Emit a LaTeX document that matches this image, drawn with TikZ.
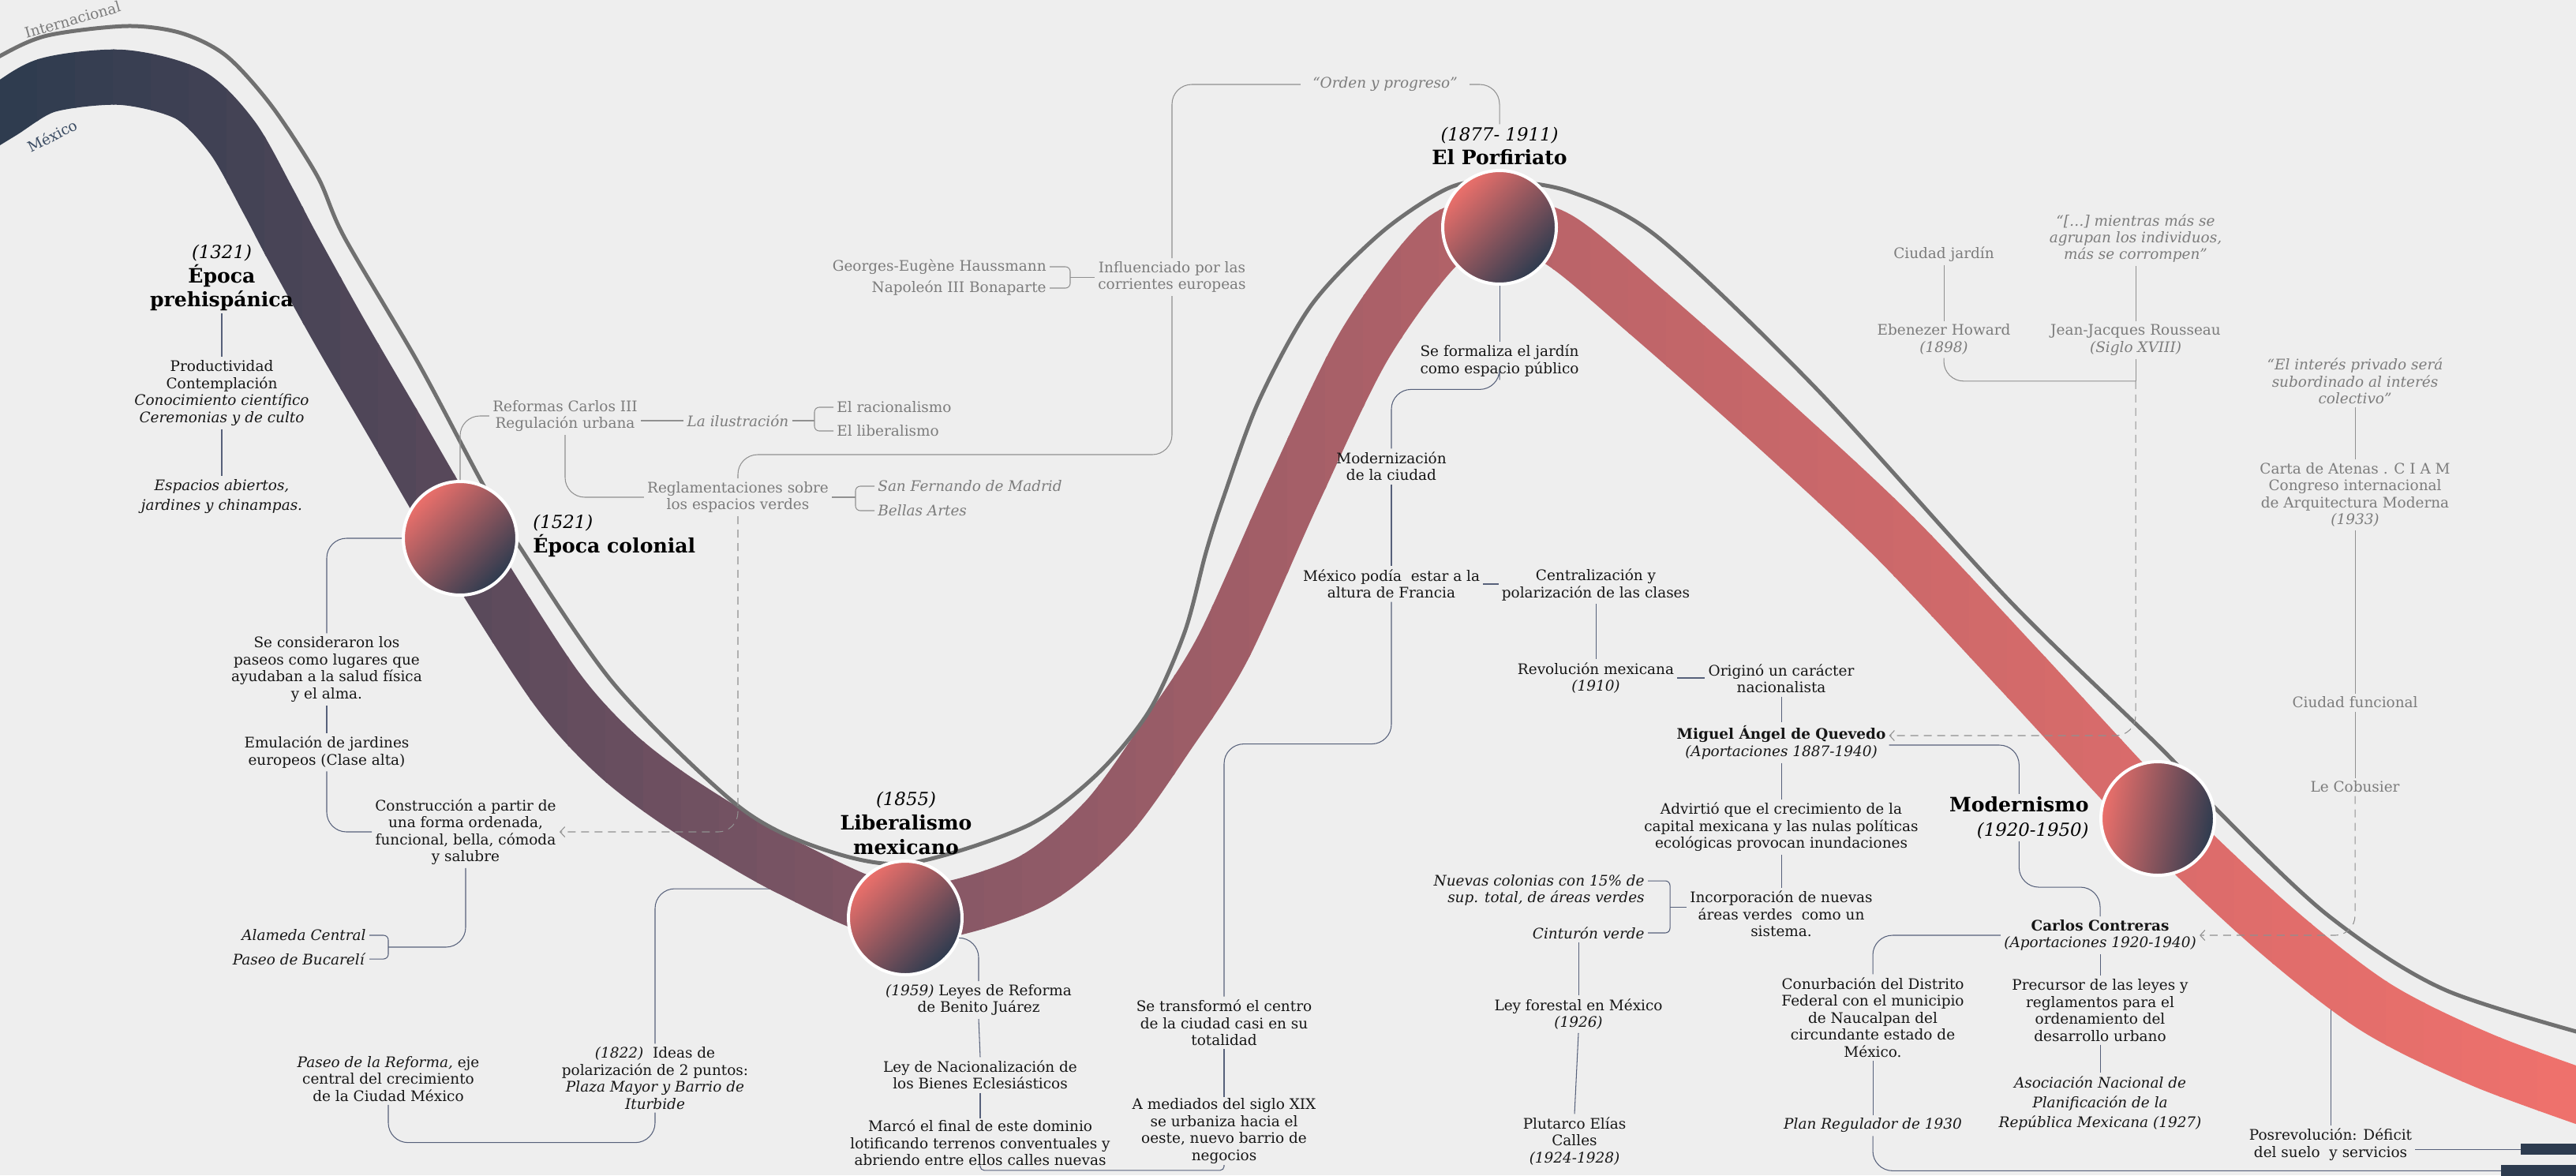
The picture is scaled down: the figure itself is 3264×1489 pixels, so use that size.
\documentclass[tikz,border=0pt]{standalone}
\usepackage{fontspec}
\setmainfont{DejaVu Serif}
\usepackage{tikz}
\usetikzlibrary{arrows.meta, calc, positioning}
\usepackage{xcolor}
\definecolor{PaperGray}{HTML}{EEEEEE}
\definecolor{Ink}{HTML}{161616}
\definecolor{SoftInk}{HTML}{7C7C7C}
\definecolor{LinkBlue}{HTML}{56607A}
\definecolor{CurveGray}{HTML}{707070}
\definecolor{Navy}{HTML}{2D3B4F}
\definecolor{MexBlue}{HTML}{3B4C63}
\definecolor{Mauve}{HTML}{845766}
\definecolor{Rose}{HTML}{BF6569}
\definecolor{Salmon}{HTML}{EF716C}
\definecolor{OrbHot}{HTML}{EC706B}
\newcommand{\notefont}{\fontsize{10.5}{12.2}\selectfont}
\newcommand{\erafont}{\fontsize{14.3}{17.5}\selectfont}
\newcommand{\eradate}[1]{{\fontsize{13}{17.5}\selectfont\mdseries\itshape #1}}
\pgfdeclarelayer{under}
\pgfdeclarelayer{ribbon}
\pgfsetlayers{under,ribbon,main}
\tikzset{%
  era_orb/.style={%
    circle,%
    draw=white,%
    line width=0.08cm,%
    minimum size=2.88cm,%
    inner sep=0pt,%
    top color=OrbHot,%
    bottom color=Navy,%
    shading angle=45%
  },
  era_title/.style={%
    font={\erafont\bfseries},%
    text=black,%
    align=center,%
    inner sep=0.06cm%
  },
  note/.style={%
    font={\notefont},%
    text=Ink,%
    align=center,%
    inner sep=0.08cm%
  },
  intl_note/.style={%
    note,%
    text=SoftInk%
  },
  link_path/.style={%
    draw=LinkBlue,%
    line width=0.6pt,%
    rounded corners=0.5cm%
  },
  intl_path/.style={%
    draw=SoftInk!85,%
    line width=0.6pt,%
    rounded corners=0.5cm%
  },
  hint_path/.style={%
    intl_path,%
    dash pattern=on 0.2cm off 0.14cm,%
    -{Straight Barb[length=0.12cm, width=0.26cm]}%
  },
  band_path/.style={%
    line width=1.4cm,%
    line cap=butt%
  },
  intl_curve/.style={%
    draw=CurveGray,%
    line width=0.1cm%
  },
  dark_bar/.style={%
    fill=Navy,%
    inner sep=0pt,%
    anchor=north west%
  },
}
\def\ribbonpath{plot[smooth] coordinates {(-60,180) (0,143) (60,108) (155,98)
  (240,120) (295,175) (340,255) (370,312) (430,420) (500,540) (583,682)
  (702,868) (780,955) (867,1021) (1000,1100) (1147,1158) (1300,1120)
  (1400,1040) (1480,930) (1550,820) (1639,623) (1729,437) (1827,306)
  (1900,288) (1974,303) (2086,395) (2250,540) (2400,680) (2560,850)
  (2734,1037) (2880,1175) (3010,1276) (3150,1345) (3330,1410)}}
\def\intlpath{plot[smooth] coordinates {(-60,110) (0,71) (60,45) (161,33)
  (230,42) (287,71) (344,134) (402,223) (436,300) (530,460) (611,612)
  (658,692) (779,868) (935,1021) (1040,1075) (1149,1094) (1300,1047)
  (1389,982) (1456,901) (1501,801) (1528,700) (1550,631) (1595,508)
  (1662,386) (1751,294) (1836,238) (1900,229) (1990,243) (2100,300)
  (2300,491) (2546,761) (2743,953) (2811,1028) (2950,1160) (3100,1255)
  (3330,1325)}}

\begin{document}
\begin{tikzpicture}[x=0.02cm, y=-0.02cm]
  \useasboundingbox (0,0) rectangle (3264,1489);
  \begin{pgfonlayer}{under}
    \fill[PaperGray] (0,0) rectangle (3264,1489);
  \end{pgfonlayer}

  \begin{pgfonlayer}{ribbon}
    \begin{scope}
      \clip (0,0) rectangle (3264,1489);
      \foreach \i in {0,...,67} {
        \pgfmathtruncatemacro{\xm}{\i*48+24}
        \ifnum\xm<1150
          \pgfmathtruncatemacro{\p}{\xm/11.5}
          \colorlet{StripColor}{Mauve!\p!Navy}
        \else
          \ifnum\xm<2050
            \pgfmathtruncatemacro{\p}{(\xm-1150)/9}
            \colorlet{StripColor}{Rose!\p!Mauve}
          \else
            \pgfmathtruncatemacro{\p}{(\xm-2050)/12.14}
            \colorlet{StripColor}{Salmon!\p!Rose}
          \fi
        \fi
        \begin{scope}
          \clip (\i*48-1,-100) rectangle (\i*48+49,1600);
          \draw[band_path, draw=StripColor] \ribbonpath;
        \end{scope}
      }
      \draw[intl_curve] \intlpath;
    \end{scope}
  \end{pgfonlayer}

  \node[intl_note, rotate=16] (IntlLabel) at (92,25) {Internacional};
  \node[note, text=MexBlue, rotate=27] (MexLabel) at (66,172) {México};

  \node[era_orb] (Colonial) at (583,682) {};
  \node[era_orb] (Liberal) at (1147,1163) {};
  \node[era_orb] (Porfiriato) at (1900,288) {};
  \node[era_orb, shading angle=80] (Moderno) at (2734,1037) {};

  \node[era_title] (PreTitle) at (281,352) {\eradate{(1321)}\\Época\\prehispánica};
  \node[era_title, anchor=west, align=left] (ColTitle) at (672,679) {\eradate{(1521)}\\Época colonial};
  \node[era_title] (LibTitle) at (1148,1043) {\eradate{(1855)}\\Liberalismo\\mexicano};
  \node[era_title] (PorTitle) at (1900,185) {\eradate{(1877- 1911)}\\El Porfiriato};
  \node[era_title, anchor=east, align=right] (ModTitle) at (2650,1036) {Modernismo\\\eradate{(1920-1950)}};

  \node[note] (PreTraits) at (281,498) {Productividad\\Contemplación\\\textit{Conocimiento científico}\\\textit{Ceremonias y de culto}};
  \node[note] (PreSpaces) at (281,629) {\textit{Espacios abiertos,}\\[0.07cm]\textit{jardines y chinampas.}};
  \draw[link_path] (PreTitle.south) -- (PreTraits.north);
  \draw[link_path] (PreTraits.south) -- (PreSpaces.north);

  \node[note] (ColPaseos) at (414,848) {Se consideraron los\\paseos como lugares que\\ayudaban a la salud física\\y el alma.};
  \node[note] (ColEmul) at (414,953) {Emulación de jardines\\europeos (Clase alta)};
  \node[note] (ColBuild) at (590,1054) {Construcción a partir de\\una forma ordenada,\\funcional, bella, cómoda\\y salubre};
  \node[note, anchor=east] (ColAlameda) at (468,1185) {\textit{Alameda Central}};
  \node[note, anchor=east] (ColBucareli) at (468,1215) {\textit{Paseo de Bucarelí}};
  \coordinate (ParkFork) at ($(ColAlameda.east)!0.5!(ColBucareli.east)+(24,0)$);
  \draw[link_path] (Colonial.west) -| (ColPaseos.north);
  \draw[link_path] (ColPaseos.south) -- (ColEmul.north);
  \draw[link_path] (ColEmul.south) |- (ColBuild.west);
  \draw[link_path, rounded corners=0.12cm] (ColAlameda.east) -| (ParkFork) |- (ColBucareli.east);
  \draw[link_path] (ColBuild.south) |- (ParkFork);

  \node[intl_note] (Carlos) at (716,527) {Reformas Carlos III\\Regulación urbana};
  \node[intl_note] (Ilustracion) at (935,533) {\textit{La ilustración}};
  \node[intl_note, anchor=west] (Racional) at (1056,516) {El racionalismo};
  \node[intl_note, anchor=west] (LiberalIdea) at (1056,546) {El liberalismo};
  \node[intl_note] (Reglas) at (935,630) {Reglamentaciones sobre\\los espacios verdes};
  \node[intl_note, anchor=west] (SanFernando) at (1108,616) {\textit{San Fernando de Madrid}};
  \node[intl_note, anchor=west] (BellasArtes) at (1108,647) {\textit{Bellas Artes}};
  \node[intl_note] (Influencia) at (1485,351) {Influenciado por las\\corrientes europeas};
  \node[intl_note, anchor=east] (Haussmann) at (1330,338) {Georges-Eugène Haussmann};
  \node[intl_note, anchor=east] (Napoleon) at (1330,365) {Napoleón III Bonaparte};
  \node[intl_note, inner xsep=0.3cm] (Orden) at (1755,107) {\textit{“Orden y progreso”}};
  \coordinate (IlusFork) at ($(Racional.west)!0.5!(LiberalIdea.west)+(-24,0)$);
  \coordinate (ReglasFork) at ($(SanFernando.west)!0.5!(BellasArtes.west)+(-24,0)$);
  \coordinate (EuroFork) at ($(Haussmann.east)!0.5!(Napoleon.east)+(26,0)$);
  \draw[intl_path] (Colonial.north) |- (Carlos.west);
  \draw[intl_path] (Carlos.east |- Ilustracion.west) -- (Ilustracion.west);
  \draw[intl_path] (Ilustracion.east) -- (Ilustracion.east -| IlusFork);
  \draw[intl_path, rounded corners=0.12cm] (Racional.west) -| (IlusFork) |- (LiberalIdea.west);
  \draw[intl_path] (Carlos.south) |- (Reglas.west);
  \draw[intl_path] (Reglas.east) -- (Reglas.east -| ReglasFork);
  \draw[intl_path, rounded corners=0.12cm] (SanFernando.west) -| (ReglasFork) |- (BellasArtes.west);
  \draw[intl_path] (Reglas.north) -- ++(0,-30) -| (Influencia.south);
  \draw[intl_path] (Influencia.north) |- (Orden.west);
  \draw[intl_path] (Orden.east) -| (PorTitle.north);
  \draw[intl_path, rounded corners=0.12cm] (Haussmann.east) -| (EuroFork) |- (Napoleon.east);
  \draw[intl_path] (EuroFork) -- (EuroFork -| Influencia.west);
  \draw[hint_path] (Reglas.south) |- (ColBuild.east);

  \node[note] (LibIdeas) at (830,1366) {\textit{(1822)}~ Ideas de\\polarización de 2 puntos:\\\textit{Plaza Mayor y Barrio de}\\\textit{Iturbide}};
  \node[note] (LibPaseo) at (492,1367) {\textit{Paseo de la Reforma,} eje\\central del crecimiento\\de la Ciudad México};
  \node[note] (LibLeyes) at (1240,1267) {\textit{(1959)} Leyes de Reforma\\de Benito Juárez};
  \node[note] (LibNacion) at (1242,1362) {Ley de Nacionalización de\\los Bienes Eclesiásticos};
  \node[note, inner ysep=0.03cm] (LibFinal) at (1242,1448) {Marcó el final de este dominio\\lotificando terrenos conventuales y\\abriendo entre ellos calles nuevas};
  \draw[link_path] (LibIdeas.south) -- ++(0,38) -| (LibPaseo.south);
  \draw[link_path] (Liberal.-20) -| (LibLeyes.north);
  \draw[link_path] (LibLeyes.south) -- (LibNacion.north);
  \draw[link_path] (LibNacion.south) -- (LibFinal.north);

  \node[note] (PorGarden) at (1900,457) {Se formaliza el jardín\\como espacio público};
  \node[note] (PorModern) at (1763,591) {Modernización\\de la ciudad};
  \node[note] (PorFrance) at (1763,740) {México podía~ estar a la\\altura de Francia};
  \node[note] (PorClasses) at (2022,741) {Centralización y\\polarización de las clases};
  \node[note] (PorRevol) at (2022,859) {Revolución mexicana\\\textit{(1910)}};
  \node[note] (PorNation) at (2257,860) {Originó un carácter\\nacionalista};
  \node[note] (PorCentro) at (1551,1296) {Se transformó el centro\\de la ciudad casi en su\\totalidad};
  \node[note, inner ysep=0.03cm] (PorAfter) at (1551,1433) {A mediados del siglo XIX\\se urbaniza hacia el\\oeste, nuevo barrio de\\negocios};
  \draw[link_path] (Porfiriato.south) -- (PorGarden.north);
  \draw[link_path] (PorGarden.south) -- ++(0,12) -| (PorModern.north);
  \draw[link_path] (PorModern.south) -- (PorFrance.north);
  \draw[link_path] (PorFrance.east) -- (PorFrance.east -| PorClasses.west);
  \draw[link_path] (PorClasses.south) -- (PorRevol.north);
  \draw[link_path] (PorRevol.east) -- (PorRevol.east -| PorNation.west);
  \draw[link_path] (PorFrance.south) -- ++(0,180) -| (PorCentro.north);
  \draw[link_path] (PorCentro.south) -- (PorAfter.north);
  \draw[link_path, rounded corners=0.1cm] (LibFinal.south) -- ++(0,4) -| (PorAfter.south);

  \node[note] (Quevedo) at (2257,941) {\textbf{Miguel Ángel de Quevedo}\\\textit{(Aportaciones 1887-1940)}};
  \node[note] (QueFlood) at (2257,1048) {Advirtió que el crecimiento de la\\capital mexicana y las nulas políticas\\ecológicas provocan inundaciones};
  \node[note] (QueGreen) at (2257,1158) {Incorporación de nuevas\\áreas verdes~ como un\\sistema.};
  \node[note, anchor=east, align=right] (QueColonias) at (2088,1128) {\textit{Nuevas colonias con 15\% de}\\\textit{sup. total, de áreas verdes}};
  \node[note, anchor=east] (QueBelt) at (2088,1182) {\textit{Cinturón verde}};
  \node[note] (QueForest) at (2000,1285) {Ley forestal en México\\\textit{(1926)}};
  \node[note] (QueCalles) at (1995,1446) {Plutarco Elías\\Calles\\\textit{(1924-1928)}};
  \coordinate (GreenFork) at ($(QueColonias.north east)!0.5!(QueBelt.east)+(28,6)$);
  \draw[link_path] (PorNation.south) -- (Quevedo.north);
  \draw[link_path] (Quevedo.south) -- (QueFlood.north);
  \draw[link_path] (QueFlood.south) -- (QueGreen.north);
  \draw[link_path, rounded corners=0.12cm] ($(QueColonias.north east)+(0,12)$) -| (GreenFork) |- (QueBelt.east);
  \draw[link_path] (GreenFork) -- (GreenFork -| QueGreen.west);
  \draw[link_path] (QueBelt.south -| QueForest.north) -- (QueForest.north);
  \draw[link_path] (QueForest.south) -- (QueCalles.north);

  \node[note] (Contreras) at (2661,1185) {\textbf{Carlos Contreras}\\\textit{(Aportaciones 1920-1940)}};
  \node[note] (ConPrecursor) at (2661,1280) {Precursor de las leyes y\\reglamentos para el\\ordenamiento del\\desarrollo urbano};
  \node[note] (ConAsoc) at (2661,1398) {\textit{Asociación Nacional de}\\[0.08cm]\textit{Planificación de la}\\[0.08cm]\textit{República Mexicana (1927)}};
  \node[note] (ConConurb) at (2373,1289) {Conurbación del Distrito\\Federal con el municipio\\de Naucalpan del\\circundante estado de\\México.};
  \node[note] (ConPlan) at (2373,1426) {\textit{Plan Regulador de 1930}};
  \node[note] (Posrev) at (2953,1450) {Posrevolución: Déficit\\del suelo~ y servicios};
  \node[dark_bar, minimum width=1.5cm, minimum height=0.28cm] (BarHigh) at (3194,1449) {};
  \node[dark_bar, minimum width=2cm, minimum height=0.28cm] (BarLow) at (3169,1476) {};
  \draw[link_path] ($(Quevedo.east)+(0,3)$) -| (ModTitle.north);
  \draw[link_path] (ModTitle.south) -- ++(0,58) -| (Contreras.north);
  \draw[link_path] (Contreras.south) -- (ConPrecursor.north);
  \draw[link_path] (ConPrecursor.south) -- (ConAsoc.north);
  \draw[link_path] (Contreras.west) -| (ConConurb.north);
  \draw[link_path] (ConConurb.south) -- (ConPlan.north);
  \draw[link_path] (ConPlan.south) |- (BarLow.west);
  \draw[link_path] (BarHigh.west -| Posrev.east) -- (BarHigh.west);

  \node[intl_note] (Privado) at (2984,483) {\textit{“El interés privado será}\\\textit{subordinado al interés}\\\textit{colectivo”}};
  \node[intl_note] (Atenas) at (2984,627) {Carta de Atenas . C I A M\\Congreso internacional\\de Arquitectura Moderna\\\textit{(1933)}};
  \node[intl_note] (Funcional) at (2984,890) {Ciudad funcional};
  \node[intl_note] (Cobusier) at (2984,997) {Le Cobusier};
  \node[intl_note] (Jardin) at (2463,322) {Ciudad jardín};
  \node[intl_note] (Howard) at (2463,430) {Ebenezer Howard\\\textit{(1898)}};
  \node[intl_note] (Corrompen) at (2706,302) {\textit{“[…] mientras más se}\\\textit{agrupan los individuos,}\\\textit{más se corrompen”}};
  \node[intl_note] (Rousseau) at (2706,431) {Jean-Jacques Rousseau\\\textit{(Siglo XVIII)}};
  \coordinate (ThinkersJoin) at ($(Rousseau.south)+(0,28)$);
  \draw[intl_path] (Privado.south) -- (Atenas.north);
  \draw[intl_path] (Atenas.south) -- (Funcional.north);
  \draw[intl_path] (Funcional.south) -- (Cobusier.north);
  \draw[intl_path] (Jardin.south) -- (Howard.north);
  \draw[intl_path] (Corrompen.south) -- (Rousseau.north);
  \draw[intl_path] (Rousseau.south) -- (ThinkersJoin);
  \draw[intl_path] (Howard.south) |- (ThinkersJoin);
  \draw[hint_path] (ThinkersJoin) |- ($(Quevedo.east)+(0,-9)$);
  \draw[hint_path] (Cobusier.south) |- (Contreras.east);

  \begin{pgfonlayer}{under}
    \draw[link_path] (Liberal.150) -| (LibIdeas.north);
    \draw[link_path] (Posrev.north) -- ++(0,-215);
  \end{pgfonlayer}
\end{tikzpicture}
\end{document}
